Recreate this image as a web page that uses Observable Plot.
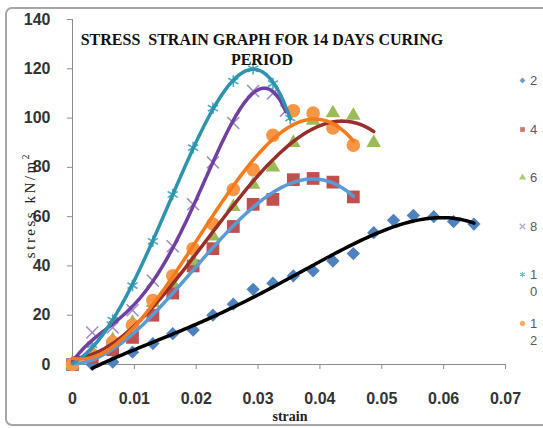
<!DOCTYPE html>
<html><head><meta charset="utf-8">
<script src="https://cdn.jsdelivr.net/npm/d3@7"></script>
<script src="https://cdn.jsdelivr.net/npm/@observablehq/plot@0.6"></script>
<style>
body{margin:0;background:#fff;}
#wrap{position:relative;width:543px;height:428px;overflow:hidden;background:#fff;}
#frame{position:absolute;left:5px;top:7px;width:560px;height:419px;border:2px solid #a6a6a6;border-radius:7px;box-sizing:border-box;}
#chart{position:absolute;left:0;top:0;}
#title{position:absolute;left:62px;top:30px;width:400px;text-align:center;font:bold 16px "Liberation Serif","Times New Roman",serif;line-height:20px;color:#111;white-space:nowrap;}
#ylab{position:absolute;left:29px;top:205px;transform:translate(-50%,-50%) rotate(-90deg);white-space:nowrap;font:15px "Liberation Serif","Times New Roman",serif;letter-spacing:2.5px;color:#222;}
#xlab{position:absolute;left:290px;top:417px;transform:translate(-50%,-50%);font:bold 14px "Liberation Serif","Times New Roman",serif;color:#222;}
.leg{position:absolute;left:518px;display:flex;align-items:flex-start;font:13px "Liberation Sans",Arial,sans-serif;color:#595959;line-height:17px;}
.leg svg{margin-top:4px;margin-right:3px;}
.leg span{width:9px;word-break:break-all;}
</style></head>
<body>
<div id="wrap">
  <div id="chart"></div>
  <div id="frame"></div>
  <div id="title">STRESS&nbsp; STRAIN GRAPH FOR 14 DAYS CURING<br>PERIOD</div>
  <div id="ylab">stress kN/m<sup style="font-size:10px">2</sup></div>
  <div id="xlab">strain</div>
</div>
<script>
// ---- data ----
const seriesNames = ["2", "4", "6", "8", "10", "12"];

const strain2 = [0.0032, 0.0065, 0.0097, 0.013, 0.0162, 0.0195, 0.0227, 0.026, 0.0292, 0.0324, 0.0357, 0.0389, 0.0421, 0.0454, 0.0487, 0.0519, 0.0551, 0.0584, 0.0616, 0.0649];
const stress2 = [0, 1, 5, 8.5, 12.5, 14, 20, 24.5, 30.5, 33, 36, 38, 42, 45, 53.5, 58.5, 60.5, 60, 58, 57];

const strain4 = [0, 0.0032, 0.0065, 0.0097, 0.013, 0.0162, 0.0195, 0.0227, 0.026, 0.0292, 0.0324, 0.0357, 0.0389, 0.0421, 0.0454];
const stress4 = [0, 3, 6, 11, 20, 29, 40, 47, 56, 65, 67, 75, 75.5, 74, 68];

const strain6 = [0, 0.0032, 0.0065, 0.0097, 0.013, 0.0162, 0.0195, 0.0227, 0.026, 0.0292, 0.0324, 0.0357, 0.0389, 0.0421, 0.0454, 0.0487];
const stress6 = [0, 5, 10, 17, 25, 33, 42, 52, 64, 73, 80, 90, 99, 102, 101, 90];

const strain8 = [0, 0.0032, 0.0065, 0.0097, 0.013, 0.0162, 0.0195, 0.0227, 0.026, 0.0292, 0.0324, 0.0345];
const stress8 = [0, 13, 15, 22, 34, 48, 65, 82, 98, 111, 110, 103];

const strain10 = [0, 0.0032, 0.0065, 0.0097, 0.013, 0.0162, 0.0195, 0.0227, 0.026, 0.0292, 0.0324, 0.0352];
const stress10 = [0, 8, 18, 32, 50, 69, 88, 104, 115, 120, 114, 100];

const strain12 = [0, 0.0032, 0.0065, 0.0097, 0.013, 0.0162, 0.0195, 0.0227, 0.026, 0.0292, 0.0324, 0.0357, 0.0389, 0.0421, 0.0454];
const stress12 = [0, 4, 9, 16, 26, 36, 47, 57, 71, 79, 93, 103, 102, 96, 89];

const xTickLabels = ["0", "0.01", "0.02", "0.03", "0.04", "0.05", "0.06", "0.07"];
const yTickLabels = ["0", "20", "40", "60", "80", "100", "120", "140"];

// ---- styling ----
const styles = [
  {sym: "diamond2", fill: "#4f81bd", r: 6, trend: "#000000", order: 4},
  {sym: "square", fill: "#c0504d", r: 7.2, trend: "#5b9bd5", order: 3},
  {sym: "triangle", fill: "#9bbb59", r: 5.4, trend: "#962f2c", order: 3},
  {sym: "times", stroke: "#a08cc6", r: 5.5, trend: "#7040a0", order: 4},
  {sym: "asterisk", stroke: "#4bacc6", r: 5.5, trend: "#2f93ab", order: 4},
  {sym: "circle", fill: "#f79646", r: 6.8, trend: "#f57a1c", order: 3}
];

const strains = [strain2, strain4, strain6, strain8, strain10, strain12];
const stresses = [stress2, stress4, stress6, stress8, stress10, stress12];
const series = seriesNames.map((name, i) => ({
  name, style: styles[i],
  pts: strains[i].map((x, j) => ({x, y: stresses[i][j]}))
}));

// polynomial trendline (least squares) like the spreadsheet's trendline
function polyfit(xs, ys, k) {
  const n = k + 1;
  const A = Array.from({length: n}, () => new Array(n + 1).fill(0));
  for (let i = 0; i < xs.length; i++) {
    const x = xs[i] * 100;
    const pw = [];
    for (let j = 0; j < 2 * n; j++) pw.push(Math.pow(x, j));
    for (let r = 0; r < n; r++) {
      for (let c = 0; c < n; c++) A[r][c] += pw[r + c];
      A[r][n] += pw[r] * ys[i];
    }
  }
  for (let c = 0; c < n; c++) {
    let p = c;
    for (let r = c + 1; r < n; r++) if (Math.abs(A[r][c]) > Math.abs(A[p][c])) p = r;
    [A[c], A[p]] = [A[p], A[c]];
    for (let r = 0; r < n; r++) {
      if (r === c) continue;
      const f = A[r][c] / A[c][c];
      for (let j = c; j <= n; j++) A[r][j] -= f * A[c][j];
    }
  }
  return A.map((row, i) => row[n] / row[i]);
}
function trend(pts, k) {
  const xs = pts.map(d => d.x), ys = pts.map(d => d.y);
  const coef = polyfit(xs, ys, k);
  const [x0, x1] = d3.extent(xs);
  return d3.range(0, 151).map(i => {
    const x = x0 + (x1 - x0) * i / 150;
    const u = x * 100;
    let y = 0;
    coef.forEach((c, j) => { y += c * Math.pow(u, j); });
    return {x, y};
  });
}

const xTicks = xTickLabels.map(Number);
const yTicks = yTickLabels.map(Number);

const marks = [
  Plot.ruleY([0], {stroke: "#8c8c8c", strokeWidth: 1}),
  Plot.ruleX([0], {stroke: "#8c8c8c", strokeWidth: 1}),
  Plot.axisX({ticks: xTicks, tickFormat: d => xTickLabels[xTicks.indexOf(d)], tickSize: 5, tickPadding: 23,
    fontSize: 16, fontWeight: "bold", stroke: "#8c8c8c", fill: "#333", label: null,
    fontFamily: "Liberation Sans, Arial, sans-serif"}),
  Plot.axisY({ticks: yTicks, tickFormat: d => yTickLabels[yTicks.indexOf(d)], tickSize: 5, tickPadding: 17,
    fontSize: 16, fontWeight: "bold", stroke: "#8c8c8c", fill: "#333", label: null,
    fontFamily: "Liberation Sans, Arial, sans-serif"})
];
series.forEach(s => {
  const st = s.style;
  const opts = {x: "x", y: "y", symbol: () => st.sym, r: st.r};
  if (st.fill) { opts.fill = st.fill; opts.stroke = "none"; }
  else { opts.stroke = st.stroke; opts.strokeWidth = 1.6; opts.fill = "none"; }
  marks.push(Plot.dot(s.pts, opts));
});
series.forEach(s => {
  marks.push(Plot.line(trend(s.pts, s.style.order), {x: "x", y: "y", stroke: s.style.trend, strokeWidth: 3.5, curve: "linear"}));
});

const chart = Plot.plot({
  width: 543, height: 428,
  marginLeft: 72, marginTop: 19, marginRight: 38, marginBottom: 64,
  x: {domain: [0, 0.07]},
  y: {domain: [0, 140]},
  style: {background: "transparent", overflow: "visible"},
  marks
});
document.getElementById("chart").appendChild(chart);

// legend
const legendTop = [72, 121, 169, 218, 266, 315];
const symMap = {diamond2: d3.symbolDiamond2, square: d3.symbolSquare, triangle: d3.symbolTriangle,
  times: d3.symbolTimes, asterisk: d3.symbolAsterisk, circle: d3.symbolCircle};
const wrap = d3.select("#wrap");
series.forEach((s, i) => {
  const st = s.style;
  const item = wrap.append("div").attr("class", "leg").style("top", legendTop[i] + "px");
  const svg = item.append("svg").attr("width", 9).attr("height", 9);
  svg.append("path")
    .attr("transform", "translate(4.5,4.5)")
    .attr("d", d3.symbol(symMap[st.sym], 22)())
    .attr("fill", st.fill || "none")
    .attr("stroke", st.fill ? "none" : st.stroke)
    .attr("stroke-width", 1.2)
    .attr("opacity", 0.8);
  item.append("span").text(s.name);
});
</script>
</body></html>
